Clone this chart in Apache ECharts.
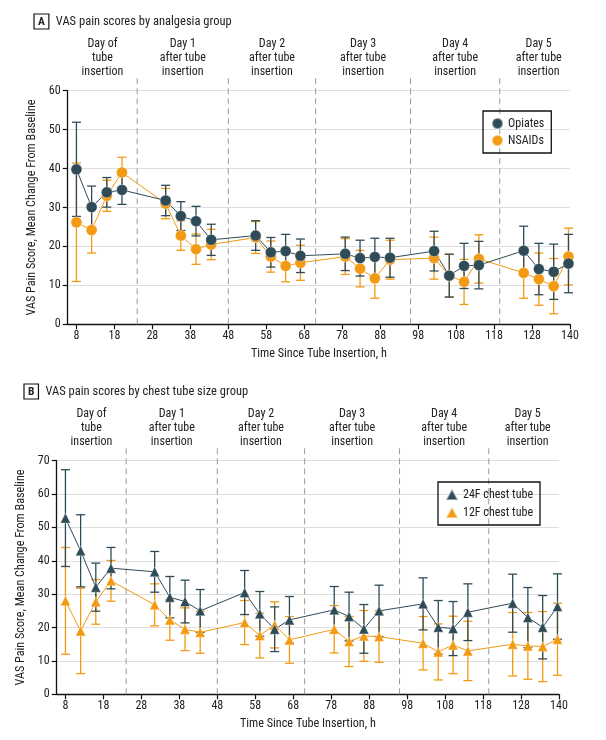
<!DOCTYPE html>
<html><head><meta charset="utf-8">
<script src="https://cdn.jsdelivr.net/npm/echarts@6/dist/echarts.min.js"></script>
<style>html,body{margin:0;padding:0;background:#fff}#c{width:606px;height:740px}</style>
</head><body><div id="c"></div>
<script>
// ---- data ----
const times = [8,12,16,20,31.5,35.5,39.5,43.5,55.2,59.2,63.1,67,78.8,82.7,86.6,90.6,102.2,106.2,110.1,114,125.8,129.8,133.7,137.6];
const tickValues = [8,18,28,38,48,58,68,78,88,98,108,118,128,138];
const tickLabels = ['8','18','28','38','48','58','68','78','88','98','108','118','128','140'];
const dayEdges = [5.7,24,48,71,96,119.5,140];
const dayNames = ['Day of\ntube\ninsertion','Day 1\nafter tube\ninsertion','Day 2\nafter tube\ninsertion','Day 3\nafter tube\ninsertion','Day 4\nafter tube\ninsertion','Day 5\nafter tube\ninsertion'];

const opiatesMean = [39.8,30.1,33.9,34.5,31.8,27.8,26.5,21.7,22.8,18.5,18.8,17.6,18.1,17.0,17.3,17.1,18.8,12.5,15.0,15.2,18.9,14.2,13.5,15.6];
const opiatesErr  = [12.1,5.4,3.8,3.7,3.9,3.7,3.8,4.0,3.8,3.8,4.3,4.3,4.3,4.6,4.8,5.0,5.1,5.5,5.8,6.1,6.3,6.6,7.1,7.5];
const nsaidsMean  = [26.2,24.2,33.0,39.0,31.0,22.8,19.3,20.5,22.3,17.4,15.0,15.8,17.4,14.3,11.8,16.6,17.0,12.5,10.9,16.8,13.2,11.6,9.8,17.4];
const nsaidsErr   = [15.2,5.9,4.0,3.9,3.9,3.8,3.9,3.9,4.1,4.0,4.1,4.5,4.6,4.7,5.1,5.0,5.4,5.5,5.8,6.2,6.5,6.7,7.1,7.3];

const tube24Mean = [52.8,43.0,32.1,37.8,36.7,29.1,27.8,25.0,30.5,24.1,19.5,22.3,25.3,23.3,19.6,25.0,27.1,20.1,19.7,24.6,27.3,23.0,20.1,26.3];
const tube24Err  = [14.5,10.8,7.2,6.2,6.1,6.2,6.4,6.4,6.6,6.7,6.7,7.0,7.0,7.3,7.3,7.7,7.8,8.0,8.1,8.5,8.7,9.0,9.5,9.8];
const tube12Mean = [28.0,19.0,27.7,34.0,26.8,22.3,19.5,18.6,21.5,17.6,20.8,16.3,19.5,15.8,17.5,17.3,15.3,12.7,14.8,13.0,15.0,14.5,14.3,16.5];
const tube12Err  = [16.0,12.8,6.7,6.1,6.3,6.1,6.4,6.3,6.6,6.7,6.9,7.0,7.1,7.5,7.6,7.7,8.0,8.4,8.6,8.9,9.5,10.0,10.5,10.8];

// ---- style ----
const FAMILY = 'Roboto';
const STRETCH = 'condensed';   // canvas font-stretch keyword, placed in the fontStyle slot
const DARK = '#2f4b57';
const ORANGE = '#f29a12';
const TXT = '#222';
const txt = (size, extra) => Object.assign({fontSize:size, fontFamily:FAMILY, fontStyle:STRETCH, fontWeight:'normal', color:TXT}, extra || {});

const chart = echarts.init(document.getElementById('c'), null, {renderer:'canvas'});

function errData(mean, err){ return times.map((t,i)=>[t, mean[i]-err[i], mean[i]+err[i]]); }
function lineData(mean){ return times.map((t,i)=>[t, mean[i]]); }

function errSeries(gi, mean, err, color){
  return {
    type:'custom', xAxisIndex:gi, yAxisIndex:gi, z:2, silent:true,
    data: errData(mean, err),
    encode:{x:0, y:[1,2]},
    renderItem(params, api){
      const x = api.value(0);
      const lo = api.coord([x, api.value(1)]);
      const hi = api.coord([x, api.value(2)]);
      const w = 4.5;
      const st = {stroke:color, lineWidth:1.3};
      return {type:'group', children:[
        {type:'line', shape:{x1:lo[0],y1:lo[1],x2:hi[0],y2:hi[1]}, style:st},
        {type:'line', shape:{x1:lo[0]-w,y1:lo[1],x2:lo[0]+w,y2:lo[1]}, style:st},
        {type:'line', shape:{x1:hi[0]-w,y1:hi[1],x2:hi[0]+w,y2:hi[1]}, style:st}
      ]};
    }
  };
}
function lineSeries(gi, name, mean, color, symbol, size){
  return {
    type:'line', name, xAxisIndex:gi, yAxisIndex:gi, z:3,
    data: lineData(mean), symbol, symbolSize:size, showSymbol:true,
    lineStyle:{color, width:1},
    itemStyle:{color, borderColor:'rgba(255,255,255,0.45)', borderWidth:0.8},
    emphasis:{disabled:true}
  };
}
function dividerSeries(gi, yMax){
  return {
    type:'custom', xAxisIndex:gi, yAxisIndex:gi, z:1, silent:true, clip:false,
    data: dayEdges.slice(1, -1).map(v=>[v, 0]),
    encode:{x:0, y:1},
    renderItem(params, api){
      const b = api.coord([api.value(0), 0]);
      const t = api.coord([api.value(0), yMax]);
      return {type:'line', shape:{x1:b[0],y1:b[1],x2:t[0],y2:t[1]-15},
        style:{stroke:'#9a9a9a', lineWidth:1, lineDash:[6,4]}};
    }
  };
}
function dayLabelSeries(gi, yMax){
  const centers = dayNames.map((n,i)=>[(dayEdges[i]+dayEdges[i+1])/2, i]);
  return {
    type:'custom', xAxisIndex:gi, yAxisIndex:gi, z:1, silent:true, clip:false,
    data: centers, encode:{x:0},
    renderItem(params, api){
      const p = api.coord([api.value(0), yMax]);
      return {type:'text', x:p[0], y:p[1]-12,
        style:{text:dayNames[api.value(1)], align:'center', verticalAlign:'bottom',
          font: STRETCH + ' 12px ' + FAMILY, lineHeight:14, fill:TXT}};
    }
  };
}

function xAxisCfg(gi){
  return {
    type:'value', gridIndex:gi, min:5.7, max:138,
    name:'Time Since Tube Insertion, h', nameLocation:'middle', nameGap:24,
    nameTextStyle:txt(12.2),
    axisLine:{lineStyle:{color:'#111', width:1.3}},
    axisTick:{customValues:tickValues, length:5, lineStyle:{color:'#111', width:1.2}},
    axisLabel:Object.assign(txt(12), {customValues:tickValues, margin:6,
      formatter:(v)=>{ const i = tickValues.indexOf(v); return i>=0 ? tickLabels[i] : ''; }}),
    splitLine:{show:false}
  };
}
function yAxisCfg(gi, max){
  return {
    type:'value', gridIndex:gi, min:0, max, interval:10,
    name:'VAS Pain Score, Mean Change From Baseline', nameLocation:'middle', nameGap:23,
    nameTextStyle:txt(12.2),
    axisLine:{show:true, lineStyle:{color:'#111', width:1.3}},
    axisTick:{show:true, length:5, lineStyle:{color:'#111', width:1.2}},
    axisLabel:Object.assign(txt(12), {margin:7}),
    splitLine:{show:true, lineStyle:{color:'#dedede', width:1}}
  };
}
const titleRich = {
  box: txt(11.5, {borderColor:'#111', borderWidth:1.2, padding:[2,4,1,4], fontWeight:'bold'}),
  t: txt(12.5, {padding:[0,0,0,7]})
};

chart.setOption({
  animation:false,
  backgroundColor:'#fff',
  title:[
    {left:29, top:9, text:'{box|A}{t|VAS pain scores by analgesia group}', textStyle:Object.assign(txt(12.5), {rich:titleRich})},
    {left:19, top:379, text:'{box|B}{t|VAS pain scores by chest tube size group}', textStyle:Object.assign(txt(12.5), {rich:titleRich})}
  ],
  legend:[
    {left:483, top:111, orient:'vertical', data:[{name:'Opiates',icon:'circle'},{name:'NSAIDs',icon:'circle'}],
      itemWidth:11, itemHeight:11, itemGap:4, padding:[6,7,6,8], borderColor:'#111', borderWidth:1.3,
      textStyle:txt(12), selectedMode:false},
    {left:438, top:482, orient:'vertical', data:[{name:'24F chest tube',icon:'triangle'},{name:'12F chest tube',icon:'triangle'}],
      itemWidth:12, itemHeight:11, itemGap:5, padding:[6,7,6,7], borderColor:'#111', borderWidth:1.3,
      textStyle:txt(12), selectedMode:false}
  ],
  grid:[
    {left:67.7, top:90.7, width:502.3, height:233.6},
    {left:56.7, top:460.7, width:502.3, height:233.6}
  ],
  xAxis:[xAxisCfg(0), xAxisCfg(1)],
  yAxis:[yAxisCfg(0,60), yAxisCfg(1,70)],
  series:[
    dividerSeries(0,60), dayLabelSeries(0,60),
    errSeries(0, nsaidsMean, nsaidsErr, ORANGE),
    errSeries(0, opiatesMean, opiatesErr, DARK),
    lineSeries(0,'NSAIDs', nsaidsMean, ORANGE, 'circle', 11),
    lineSeries(0,'Opiates', opiatesMean, DARK, 'circle', 11),
    dividerSeries(1,70), dayLabelSeries(1,70),
    errSeries(1, tube12Mean, tube12Err, ORANGE),
    errSeries(1, tube24Mean, tube24Err, DARK),
    lineSeries(1,'12F chest tube', tube12Mean, ORANGE, 'triangle', 10),
    lineSeries(1,'24F chest tube', tube24Mean, DARK, 'triangle', 10)
  ]
});
</script></body></html>
